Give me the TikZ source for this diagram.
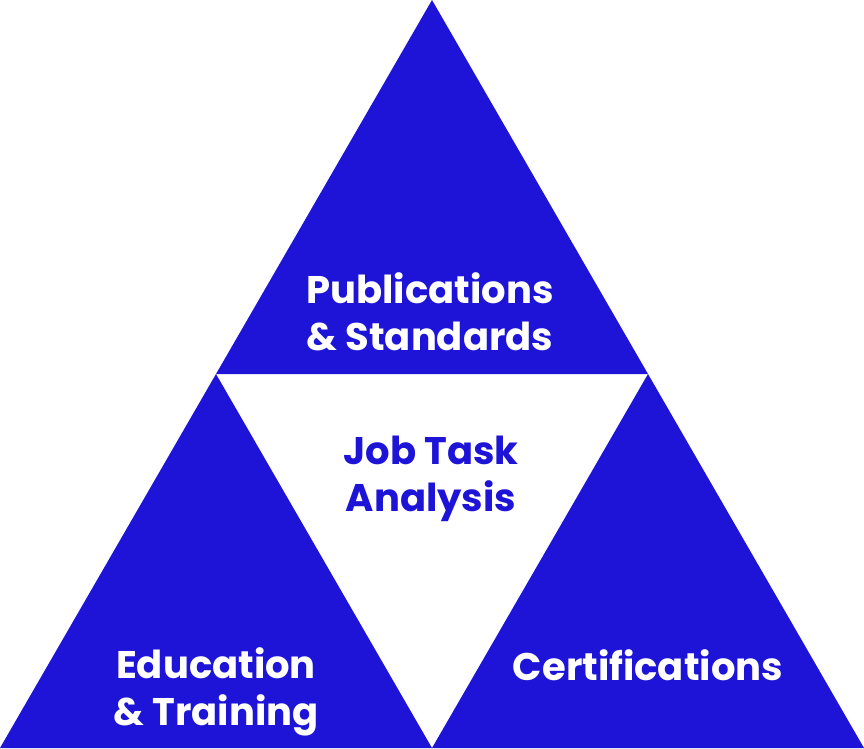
\documentclass[tikz,border=0pt]{standalone}
\usepackage{fontspec}
\setmainfont{Poppins}
\definecolor{tblue}{RGB}{30,20,216}
\begin{document}
\begin{tikzpicture}[x=1pt,y=1pt,
  tri/.style={fill=tblue,draw=none},
  lbl/.style={font=\fontsize{38.5}{46.5}\selectfont\bfseries,align=center,inner sep=0pt}]
\useasboundingbox (0,0) rectangle (864,748);
\coordinate (T) at (432,748);
\coordinate (L) at (0,0);
\coordinate (R) at (864,0);
\coordinate (ML) at (216,374);
\coordinate (MR) at (648,374);
\coordinate (MB) at (432,0);
\fill[tri] (T) -- (ML) -- (MR) -- cycle;
\fill[tri] (ML) -- (L) -- (MB) -- cycle;
\fill[tri] (MR) -- (MB) -- (R) -- cycle;
\node[lbl,text=white] (pub) at (430,436) {Publications\\\& Standards};
\node[lbl,text=tblue] (jta) at (431,269) {Job Task\\Analysis};
\node[lbl,text=white] (edu) at (216,56) {Education\\\& Training};
\node[lbl,text=white] (cert) at (648,83) {Certifications};
\end{tikzpicture}
\end{document}
